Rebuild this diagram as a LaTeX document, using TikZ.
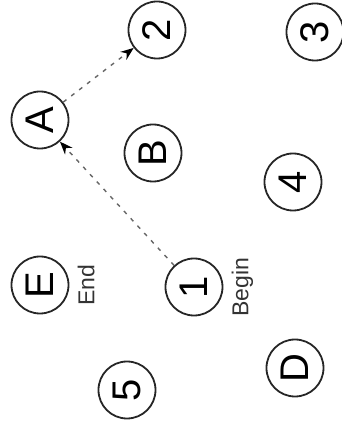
\documentclass[tikz,border=0pt]{standalone}
\usepackage{fontspec}
\setmainfont{Liberation Sans}
\usetikzlibrary{arrows.meta, positioning}

\begin{document}
\begin{tikzpicture}[x=1pt, y=1pt]
\tikzset{state/.style={circle, draw=black!85, line width=1.8pt, minimum size=57pt, inner sep=0pt, font=\fontsize{40}{48}\selectfont},
		tag/.style={inner sep=0pt, font=\fontsize{23}{28}\selectfont, text=black!80},
		hop/.style={draw=black!60, line width=1.4pt, dash pattern=on 4pt off 6pt, -{Stealth[length=13pt, width=10pt, black]}}}
\begin{scope}[rotate=90, transform shape]
\useasboundingbox (0,0) rectangle (429,341);
\node[state] (A) at (309,301) {A};
\node[state] (two) at (399,184) {2};
\node[state] (three) at (397,26) {3};
\node[state] (B) at (276,188) {B};
\node[state] (four) at (247,48) {4};
\node[state] (E) at (144,301) {E};
\node[state] (one) at (142,147) {1};
\node[state] (D) at (61,46) {D};
\node[state] (five) at (39,214) {5};
\node[tag, below=8pt of E] (End) {End};
\node[tag, below=8pt of one] (Begin) {Begin};
\draw[hop] (one) -- (A);
\draw[hop] (A) -- (two);
\end{scope}
\end{tikzpicture}
\end{document}
